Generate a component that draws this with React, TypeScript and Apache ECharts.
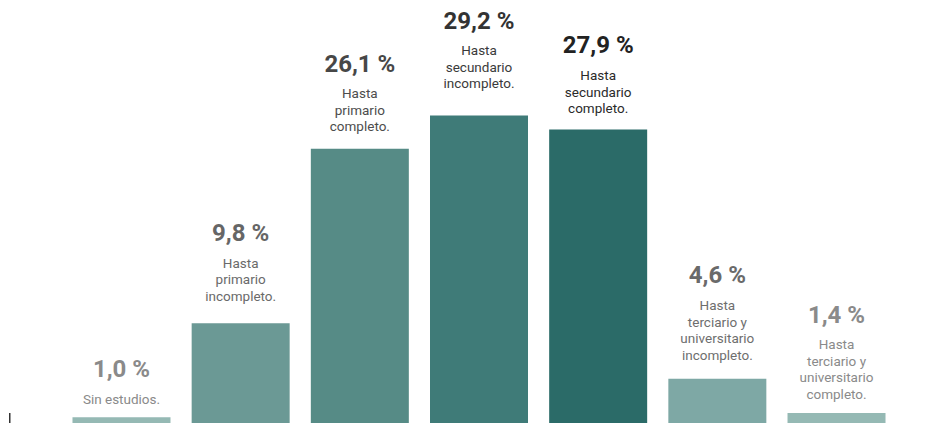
import React, { useEffect, useRef } from "react";
import * as echarts from "echarts";

const categories = [
  "Sin estudios.",
  "Hasta\nprimario\nincompleto.",
  "Hasta\nprimario\ncompleto.",
  "Hasta\nsecundario\nincompleto.",
  "Hasta\nsecundario\ncompleto.",
  "Hasta\nterciario y\nuniversitario\nincompleto.",
  "Hasta\nterciario y\nuniversitario\ncompleto.",
];
const values = [1.0, 9.8, 26.1, 29.2, 27.9, 4.6, 1.4];

const barColors = ["#95b9b4", "#6b9995", "#568b86", "#3f7b78", "#2b6b68", "#7ea8a5", "#95b9b4"];
const valueColors = ["#8a8a8a", "#666666", "#474747", "#333333", "#222222", "#6a6a6a", "#8a8a8a"];
const descColors = ["#8a8a8a", "#6a6a6a", "#4d4d4d", "#3a3a3a", "#2a2a2a", "#6e6e6e", "#8a8a8a"];
const labelGaps = [10, 19, 14, 24, 13, 16, 11];

const fmt = (v: number) => v.toFixed(1).replace(".", ",") + " %";

export default function App() {
  const ref = useRef<HTMLDivElement>(null);
  useEffect(() => {
    if (!ref.current) return;
    const chart = echarts.init(ref.current, undefined, { renderer: "svg" });
    const font = "Roboto, 'Noto Sans', sans-serif";
    chart.setOption({
      animation: false,
      grid: { left: 61.9, right: 35.9, top: 0, bottom: 0, containLabel: false },
      xAxis: {
        type: "category",
        data: categories,
        show: false,
      },
      yAxis: { type: "value", min: 0, max: 40, show: false },
      graphic: [
        {
          type: "rect",
          shape: { x: 9, y: 413, width: 1.5, height: 10 },
          style: { fill: "#333" },
        },
      ],
      series: [
        {
          type: "bar",
          barWidth: 98,
          data: values.map((v, i) => ({
            value: v,
            itemStyle: { color: barColors[i] },
            label: {
              show: true,
              position: "top",
              distance: labelGaps[i],
              formatter: () => `{v|${fmt(v)}}\n{d|${categories[i].split("\n").join("}\n{d|")}}`,
              rich: {
                v: {
                  fontFamily: font,
                  fontWeight: "bold",
                  fontSize: 24,
                  color: valueColors[i],
                  lineHeight: 43,
                  align: "center",
                },
                d: {
                  fontFamily: font,
                  fontSize: 13.5,
                  color: descColors[i],
                  lineHeight: 16.5,
                  align: "center",
                },
              },
            },
          })),
        },
      ],
    });
    return () => chart.dispose();
  }, []);
  return (
    <div style={{ position: "fixed", left: 0, top: 0, width: 932, height: 423, overflow: "hidden", background: "#fff" }}>
      <div ref={ref} style={{ width: 932, height: 428 }} />
    </div>
  );
}
